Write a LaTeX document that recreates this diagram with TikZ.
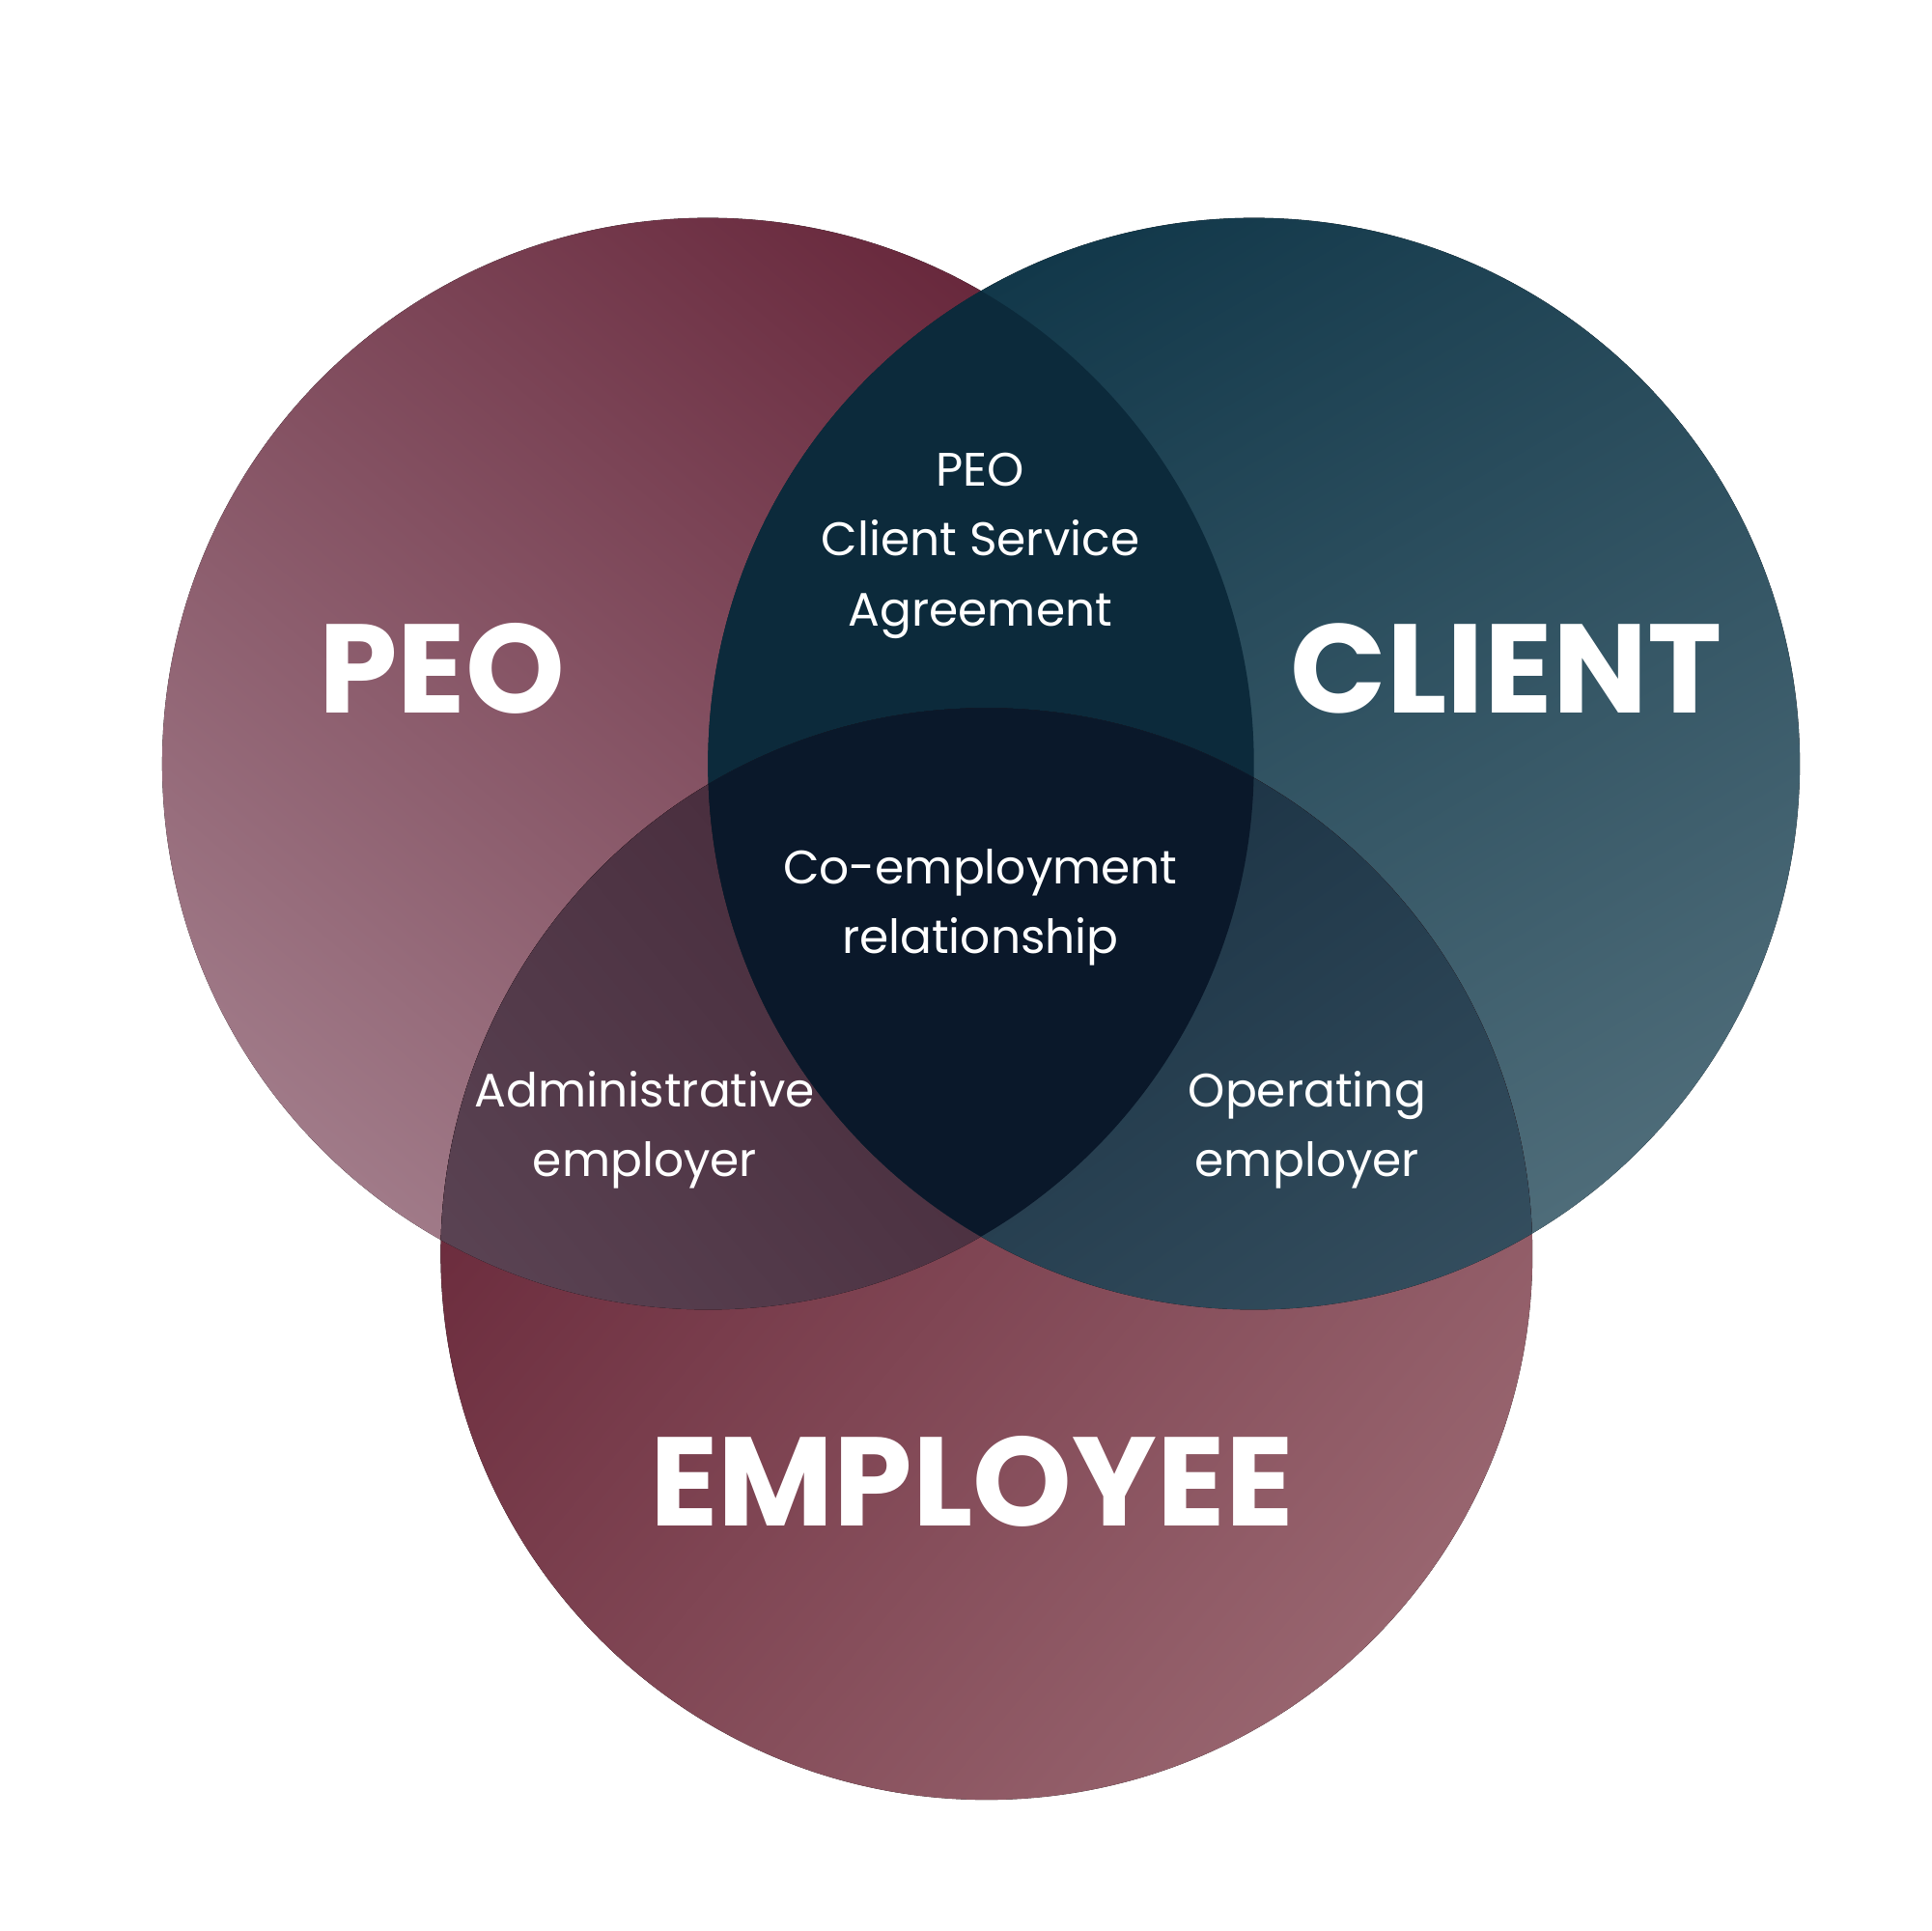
\documentclass[tikz,border=0pt]{standalone}
\usepackage{fontspec}
\setmainfont{Poppins}
\begin{document}
\begin{tikzpicture}[x=0.01cm,y=-0.01cm,
  big/.style={text=white,font=\fontsize{29}{29}\selectfont\bfseries},
  small/.style={text=white,font=\fontsize{10.8}{16}\selectfont,align=center}]
\useasboundingbox (0,0) rectangle (1560,1560);
\definecolor{peoA}{HTML}{68283C}\definecolor{peoB}{HTML}{A07A88}
\definecolor{cliA}{HTML}{12384A}\definecolor{cliB}{HTML}{4E6C79}
\definecolor{empA}{HTML}{672638}\definecolor{empB}{HTML}{98656F}
\definecolor{pc}{HTML}{0C2A3B}\definecolor{tri}{HTML}{0A182A}
\definecolor{ceA}{HTML}{12283A}\definecolor{ceB}{HTML}{3D5868}
\definecolor{peA}{HTML}{3B1C2C}\definecolor{peB}{HTML}{5E4858}
\coordinate (cp) at (572,617);
\coordinate (cc) at (1013,617);
\coordinate (ce) at (797,1013);
\def\R{441}
\fill[top color=peoA,middle color=peoA,bottom color=peoB,shading angle=-40] (cp) circle (\R);
\fill[top color=cliA,middle color=cliA,bottom color=cliB,shading angle=30] (cc) circle (\R);
\fill[top color=empA,middle color=empA!90!empB,bottom color=empB,shading angle=50] (ce) circle (\R);
\begin{scope}\clip (cp) circle (\R);
  \fill[pc] (cc) circle (\R);
  \fill[top color=peA,middle color=peA,bottom color=peB,shading angle=-50] (ce) circle (\R);
\end{scope}
\begin{scope}\clip (cc) circle (\R);
  \fill[top color=ceA,middle color=ceA,bottom color=ceB,shading angle=35] (ce) circle (\R);
\end{scope}
\begin{scope}\clip (cp) circle (\R);\clip (cc) circle (\R);
  \fill[tri] (ce) circle (\R);
\end{scope}
\node[big] (peo) at (357,540) {PEO};
\node[big] (client) at (1217,540) {CLIENT};
\node[big] (emp) at (785,1197) {EMPLOYEE};
\node[small] (csa) at (792,441) {PEO\\Client Service\\Agreement};
\node[small] (co) at (792,733) {Co-employment\\relationship};
\node[small] (adm) at (521,913) {Administrative\\employer};
\node[small] (op) at (1056,913) {Operating\\employer};
\end{tikzpicture}
\end{document}
